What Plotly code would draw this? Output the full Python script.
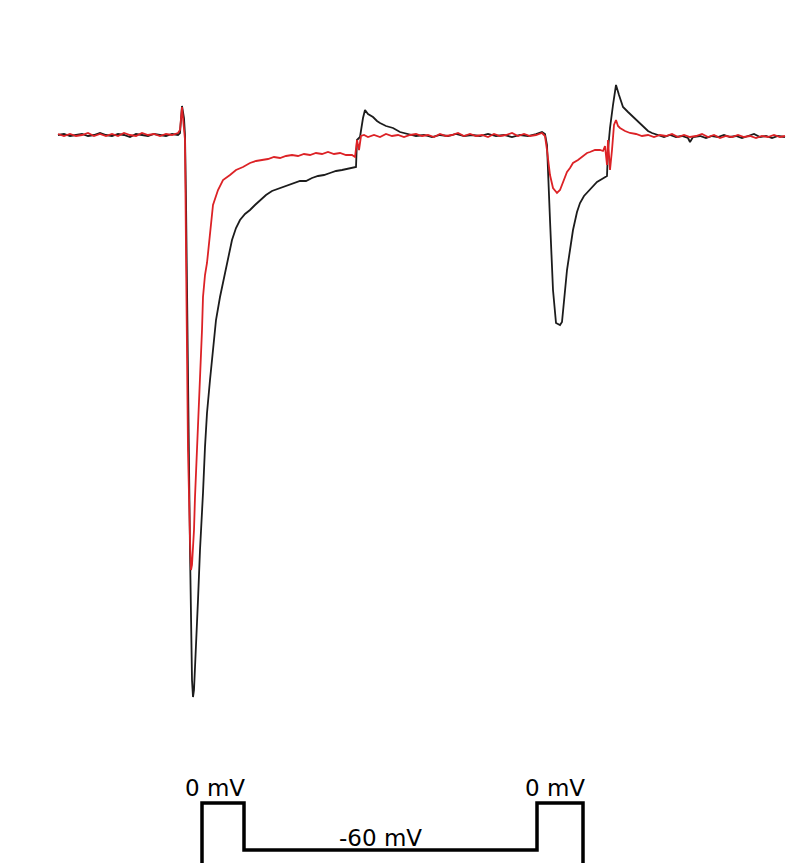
import plotly.graph_objects as go

# Whole-cell current recordings (time in ms, current in pA)
t_black = [0, 6, 12, 18, 24, 30, 36, 42, 48, 54, 60, 66, 72, 78, 84, 90, 96, 102, 108, 114, 120, 122,
           124, 126, 127, 128, 130, 132, 134,
           135, 136, 138, 140, 142, 143, 145, 147, 149, 152, 155, 158, 162, 166, 169, 174, 178, 182, 187,
           192, 197, 202, 208, 214, 220, 226, 232, 238,
           242, 248, 254, 260, 266, 272, 278, 284, 290, 296, 298, 299, 302, 305, 307, 310, 315, 319, 322,
           328, 335, 342, 350, 358,
           366, 374, 382, 390, 398, 406, 414, 422, 430, 438, 446, 454, 462, 470, 478, 484, 487, 489, 492,
           495, 498, 502, 504, 507, 509, 512, 515, 519, 522, 526, 529, 534, 539, 544, 549, 550, 552, 555,
           558, 561, 565, 570, 575, 580, 585, 590, 594, 600, 606, 612, 618, 624, 630, 632, 635, 642, 648,
           654, 660, 666, 672, 678, 684, 690, 696, 702, 708, 714, 720, 727]
i_black = [0, 2, -2, 0, 2, -2, 0, 4, 0, -2, 2, 0, -4, 2, 0, -2, 2, 0, -2, 2, 0, 4,
           58, 34, 0, -130, -530, -830, -1090,
           -1124, -1110, -1030, -930, -830, -780, -716, -624, -556, -490, -424, -370, -324, -284, -256, -210, -186, -170, -158,
           -150, -140, -130, -120, -112, -108, -104, -100, -96,
           -92, -92, -86, -82, -80, -76, -72, -70, -68, -66, -64, -10, -4, 34, 50, 42, 36, 28, 24,
           18, 14, 6, 2, -2,
           0, -4, 0, -2, 2, -2, 0, -2, 2, -2, 0, -4, 0, -2, 2, 6, 2, -20, -170,
           -310, -376, -380, -374, -310, -270, -230, -190, -154, -136, -122, -116, -106, -94, -88, -82, -30, 14, 60,
           100, 80, 56, 46, 36, 26, 16, 8, 4, 0, -4, 0, -4, -2, -6, -14, -4, -2, -6,
           -2, -4, 0, -4, -2, -6, -2, 2, -4, -2, -6, -2, -4]

t_red = [0, 6, 12, 18, 24, 30, 36, 42, 48, 54, 60, 66, 72, 78, 84, 90, 96, 102, 108, 114, 120, 122,
         124, 126, 127, 128, 129, 130, 132,
         133, 134, 136, 137, 140, 142, 144, 145, 147, 149, 152, 155, 160, 165,
         172, 178, 185, 192, 198, 204, 210, 216, 222, 228, 234, 240, 246, 252, 258, 264,
         270, 276, 282, 288, 294, 297, 299, 301, 303, 306, 310, 316, 322, 328, 334, 340, 346, 352, 358,
         364, 370, 376, 382, 388, 394, 400, 406, 412, 418, 424, 430, 436, 442, 448, 454, 460, 466, 472,
         478, 484, 487, 489, 492, 495, 499, 502, 505, 509, 512, 515, 520, 525, 529, 532, 537, 542, 545,
         547, 549, 550, 552, 554, 556, 558, 560, 562, 567, 572, 578, 584, 590, 596, 602, 608, 614, 620,
         626, 632, 638, 644, 650, 656, 662, 668, 674, 680, 686, 692, 698, 704, 710, 716, 722, 727]
i_red = [2, -2, 2, -2, 0, 4, -2, 2, -2, 2, -2, 4, 0, -2, 4, 0, 2, -2, 2, 0, 4, 10,
         56, 20, -10, -230, -430, -630, -810,
         -870, -860, -790, -724, -590, -490, -390, -324, -280, -256, -190, -140, -110, -90,
         -80, -70, -64, -56, -52, -50, -48, -44, -46, -42, -40, -42, -38, -40, -36, -38,
         -34, -38, -36, -40, -40, -44, -10, -30, -2, 0, -4, 0, -4, 2, -2, 0, -4, 0, 2,
         -2, 0, -4, 2, -2, 0, 4, -2, 2, -2, 0, -4, 2, -2, 0, 4, -2, 2, -2,
         0, 4, -2, -30, -80, -106, -116, -110, -94, -74, -66, -56, -50, -42, -36, -34, -30, -30, -32,
         -22, -60, -10, -70, -30, 20, 30, 18, 14, 8, 4, 2, -2, 0, -4, 0, -2, 2, -4,
         0, -4, -2, 2, -4, 0, -6, -2, -4, 0, -4, -2, -6, -2, -4, 0, -4, -2]

# Voltage-clamp command (time in ms, command potential in mV)
t_cmd = [144, 144, 186, 186, 479, 479, 525, 525]
v_cmd = [-100, 0, 0, -60, -60, 0, 0, -100]

# Step labels: (time, level, text, vertical offset in px)
cmd_labels = [(157, 0, "0 mV", 15), (322, -60, "-60 mV", 12), (497, 0, "0 mV", 15)]

fig = go.Figure()
fig.add_trace(go.Scatter(x=t_black, y=i_black, mode="lines",
                         line=dict(color="#1c1c1c", width=1.8), hoverinfo="skip"))
fig.add_trace(go.Scatter(x=t_red, y=i_red, mode="lines",
                         line=dict(color="#dc2226", width=1.8), hoverinfo="skip"))
fig.add_trace(go.Scatter(x=t_cmd, y=v_cmd, mode="lines", yaxis="y2",
                         line=dict(color="#000000", width=3.5), hoverinfo="skip"))

for t, v, txt, dy in cmd_labels:
    fig.add_annotation(x=t, y=v, yref="y2", text=txt, showarrow=False,
                       xanchor="center", yanchor="middle", yshift=dy,
                       font=dict(family="DejaVu Sans", size=23, color="#000000"))

fig.update_layout(
    width=800, height=863,
    margin=dict(l=0, r=0, t=0, b=0),
    paper_bgcolor="white", plot_bgcolor="white",
    showlegend=False,
    xaxis=dict(range=[-58, 742], visible=False),
    yaxis=dict(range=[-1456, 270], visible=False),
    yaxis2=dict(range=[-76.6, 1025.1], overlaying="y", visible=False),
)

fig.write_html("out.html")
